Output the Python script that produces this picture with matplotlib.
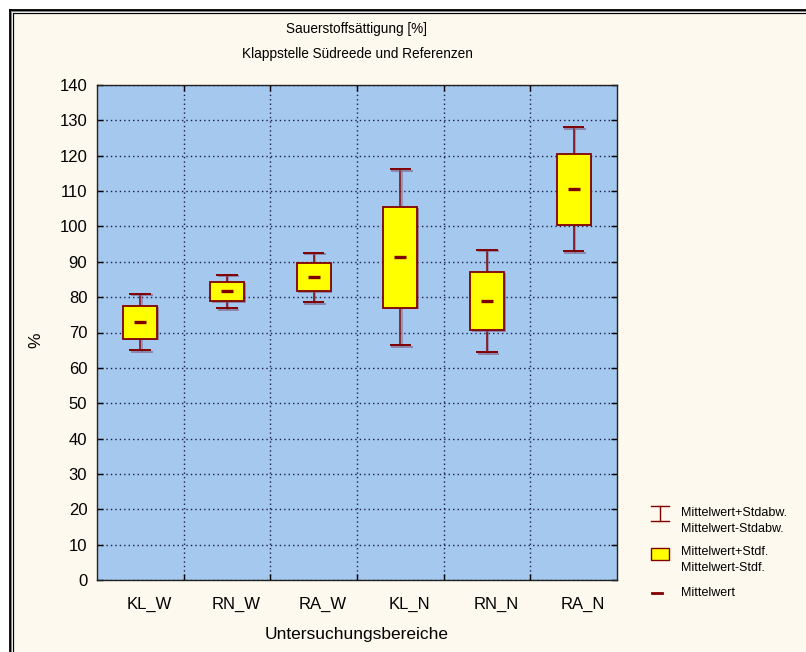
import numpy as np
import matplotlib
matplotlib.use('Agg')
from matplotlib import pyplot as plt
from matplotlib import patheffects as pe
from matplotlib.lines import Line2D
from matplotlib.patches import Rectangle
from matplotlib.transforms import ScaledTranslation

plt.rcParams['font.family'] = ['Liberation Sans', 'DejaVu Sans']

# values
groups = ['KL_W', 'RN_W', 'RA_W', 'KL_N', 'RN_N', 'RA_N']
mittelwert = [73.0, 81.7, 85.7, 91.3, 78.9, 110.6]
stdf_hi = [77.6, 84.4, 89.6, 105.6, 87.2, 120.6]
stdf_lo = [68.3, 78.9, 81.6, 77.0, 70.6, 100.5]
stdabw_hi = [81.0, 86.4, 92.6, 116.2, 93.4, 128.0]
stdabw_lo = [65.0, 76.8, 78.5, 66.4, 64.4, 93.0]
y_ticks = list(range(0, 141, 10))

W, H = 806, 652
cream = '#fef9ee'
blue = '#a4c8ee'
dred = '#800000'
gridc = '#1c1c4c'

fig = plt.figure(figsize=(W / 100, H / 100), dpi=100, facecolor='white')


def fx(px):
    return px / W


def fy(py):
    return 1 - py / H


# frame round the page (only left and top visible)
fig.add_artist(Rectangle((fx(13), 0), 1, fy(13), transform=fig.transFigure,
                         facecolor=cream, edgecolor='none', zorder=-10))
for pos, lw, col in [(9.5, 2.8, 'black'), (11.3, 1.0, '#888888'), (13.3, 1.2, 'black')]:
    fig.add_artist(Line2D([fx(pos), fx(pos)], [0, fy(pos)], transform=fig.transFigure,
                          color=col, linewidth=lw * 0.72))
    fig.add_artist(Line2D([fx(pos), 1], [fy(pos), fy(pos)], transform=fig.transFigure,
                          color=col, linewidth=lw * 0.72))

ax = fig.add_axes([fx(97), fy(580), fx(617) - fx(97), fy(85) - fy(580)])
ax.set_facecolor(blue)

x = np.arange(len(groups))
mw = np.array(mittelwert)

shadow_line = [pe.SimpleLineShadow(offset=(1, -1), shadow_color='#7a5a80', alpha=0.6), pe.Normal()]
shadow_patch = [pe.SimplePatchShadow(offset=(1.2, -1.2), shadow_rgbFace='#7a5a80', alpha=0.6), pe.Normal()]

eb = ax.errorbar(x, mw, yerr=[mw - np.array(stdabw_lo), np.array(stdabw_hi) - mw],
                 fmt='none', ecolor=dred, elinewidth=1.1, capsize=7.8, capthick=1.4, zorder=3)
for art in list(eb[1]) + list(eb[2]):
    art.set_path_effects(shadow_line)

bars = ax.bar(x, np.array(stdf_hi) - np.array(stdf_lo), bottom=stdf_lo, width=0.39,
              color='#ffff00', edgecolor=dred, linewidth=1.3, zorder=4)
for b in bars:
    b.set_path_effects(shadow_patch)

ax.plot(x, mw, linestyle='none', marker='_', markersize=9, markeredgewidth=2.4,
        color=dred, zorder=5)

ax.set_xlim(-0.5, len(groups) - 0.5)
ax.set_ylim(0, 140)
ax.set_yticks(y_ticks)
ax.set_xticks(x[:-1] + 0.5)
ax.set_xticklabels([])
ax.set_xticks(x, minor=True)
ax.set_xticklabels(groups, minor=True, fontsize=12)
ax.tick_params(axis='x', which='minor', length=0, pad=12)
ax.tick_params(axis='both', which='major', direction='in', length=4, width=1,
               top=True, right=True, labelsize=12, colors='black')
ax.tick_params(axis='y', pad=7)
for lab in ax.get_xticklabels(minor=True):
    lab.set_transform(lab.get_transform() + ScaledTranslation(0.09, 0, fig.dpi_scale_trans))

ax.grid(True, which='major', color=gridc, linestyle=(0, (1, 2.2)), linewidth=1.0)
ax.set_axisbelow(True)
for s in ax.spines.values():
    s.set_color('#222222')
    s.set_linewidth(1.0)

fig.text(fx(357), fy(29), 'Sauerstoffsättigung [%]', ha='center', va='center', fontsize=9.8)
fig.text(fx(357), fy(54), 'Klappstelle Südreede und Referenzen', ha='center', va='center', fontsize=9.8)
fig.text(fx(357), fy(634), 'Untersuchungsbereiche', ha='center', va='center', fontsize=12.5)
fig.text(fx(36), fy(340), '%', ha='center', va='center', rotation=90, fontsize=12.5)

# legend
tf = fig.transFigure
fig.add_artist(Line2D([fx(660), fx(660)], [fy(506), fy(521)], transform=tf, color=dred, linewidth=1))
fig.add_artist(Line2D([fx(651), fx(669)], [fy(506), fy(506)], transform=tf, color=dred, linewidth=1))
fig.add_artist(Line2D([fx(651), fx(669)], [fy(521), fy(521)], transform=tf, color=dred, linewidth=1))
fig.add_artist(Rectangle((fx(651), fy(560)), fx(669) - fx(651), fy(548) - fy(560), transform=tf,
                         facecolor='#ffff00', edgecolor=dred, linewidth=1))
fig.add_artist(Line2D([fx(652), fx(662)], [fy(593), fy(593)], transform=tf, color=dred, linewidth=2))

for txt, py in [('Mittelwert+Stdabw.', 513), ('Mittelwert-Stdabw.', 529),
                ('Mittelwert+Stdf.', 552), ('Mittelwert-Stdf.', 568), ('Mittelwert', 593)]:
    fig.text(fx(681), fy(py), txt, ha='left', va='center', fontsize=9)

fig.savefig('out.png', dpi=100, facecolor=fig.get_facecolor())
